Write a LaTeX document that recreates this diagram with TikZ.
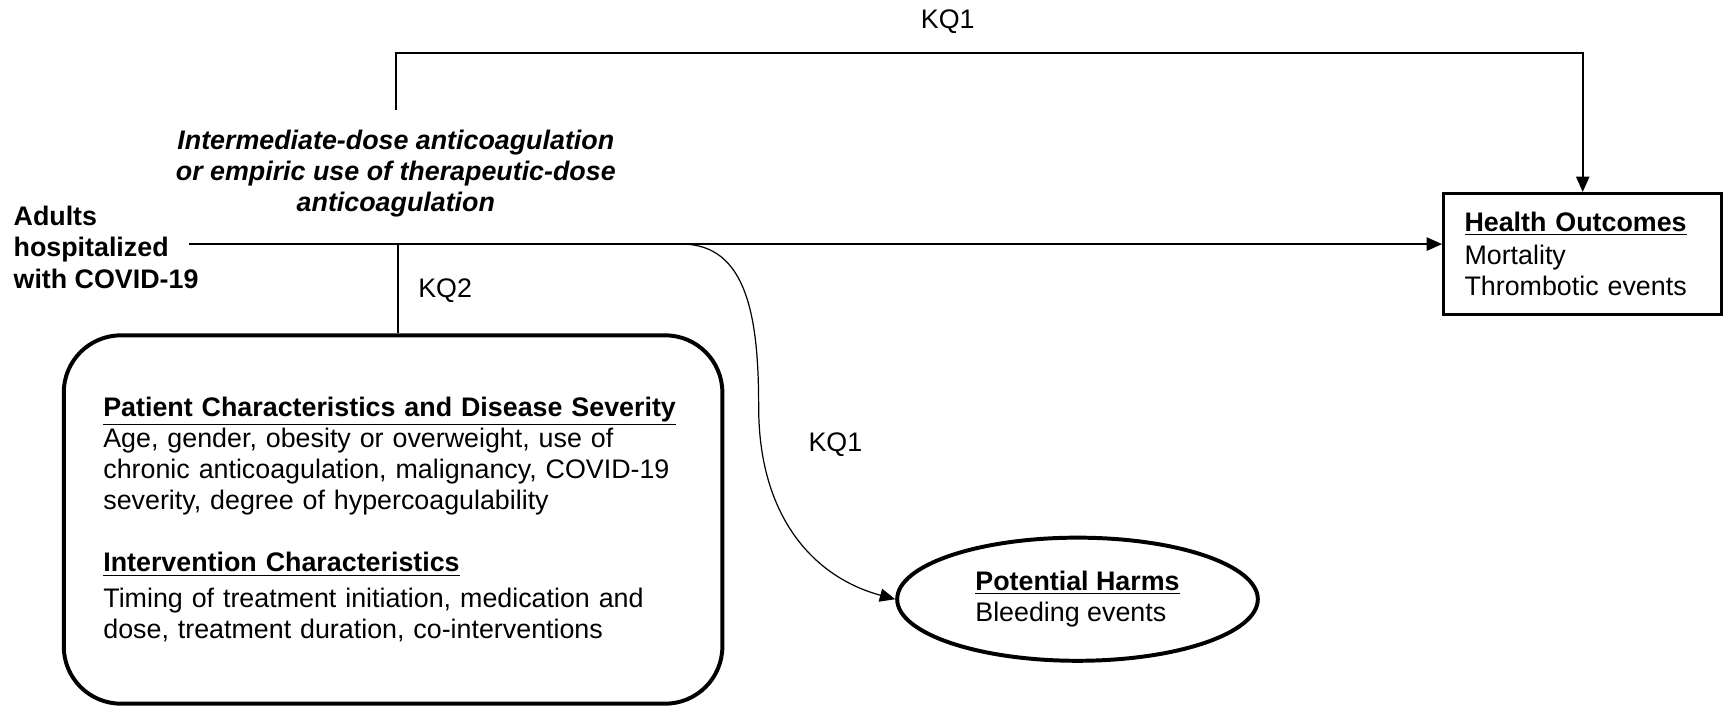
\documentclass[tikz,border=0pt]{standalone}
\usepackage{fontspec}
\setmainfont{Liberation Sans}
\usetikzlibrary{shapes.geometric,arrows.meta}

\begin{document}
\fontsize{12.2}{14.2}\selectfont
\begin{tikzpicture}[x=0.5pt,y=-0.5pt,
    every node/.style={inner sep=0pt},
    link/.style={line width=0.9pt},
    arr/.style={-{Triangle[length=7pt,width=6pt]}},
    bigbox/.style={draw,line width=1.8pt,rounded corners=26pt,align=left},
    head/.style={font=\bfseries\itshape,align=center}]

    \useasboundingbox (0,0) rectangle (1568,642);

    \draw(12,225) node[anchor=west,align=left,font=\bfseries] (adults)
    {Adults\\hospitalized\\with COVID-19};
    \draw(360,158) node[head] (treat)
    {Intermediate-dose anticoagulation\\or empiric use of therapeutic-dose\\anticoagulation};

    \draw(1439.5,231) node[draw,line width=1.4pt,minimum height=55pt,
    text width=107.5pt,inner xsep=9.5pt,align=left] (outcomes)
    {\textbf{\underline{Health Outcomes}}\\[1pt]Mortality\\Thrombotic events};

    \draw(980,545) node[ellipse,draw,line width=1.8pt,minimum width=164pt,
    minimum height=56pt,align=left] (harms)
    {\textbf{\underline{Potential Harms}}\\Bleeding events};

    \draw(357.5,472.5) node[bigbox,minimum width=299.5pt,minimum height=167.5pt,
    text width=263.5pt,inner xsep=18pt] (factors)
    {\textbf{\underline{Patient Characteristics and Disease Severity}}\\
    Age, gender, obesity or overweight, use of\\
    chronic anticoagulation, malignancy, COVID-19\\
    severity, degree of hypercoagulability\\[14pt]
    \textbf{\underline{Intervention Characteristics}}\\[2pt]
    Timing of treatment initiation, medication and\\
    dose, treatment duration, co-interventions};

    \draw(862,20) node (kqa) {KQ1};
    \draw(380,264) node[anchor=west] (kqb) {KQ2};
    \draw(735,404) node[anchor=west] (kqc) {KQ1};

    \coordinate (start) at (172,222);
    \coordinate (split) at (620,222);
    \coordinate (kqtop) at (360,100);
    \coordinate (kqmid) at (362,222);

    \draw[link,arr] (start) -- (start -| outcomes.west);
    \draw[link,arr] (kqtop) -- (360,48) -| (outcomes.north);
    \draw[line width=0.5pt] (kqmid) -- (kqmid |- factors.north);
    \draw[line width=0.55pt,arr] (split) .. controls (680,222) and (690,290) ..
    (690,370) .. controls (690,470) and (740,525) .. (harms.west);

\end{tikzpicture}
\end{document}
